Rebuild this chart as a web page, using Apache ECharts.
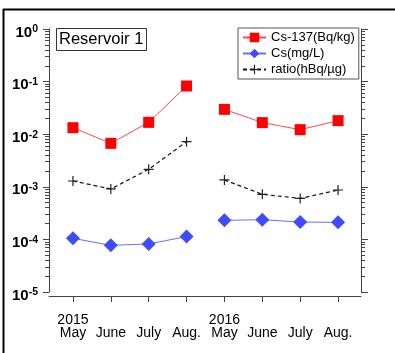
<!DOCTYPE html>
<html><head><meta charset="utf-8">
<script src="https://cdn.jsdelivr.net/npm/echarts@6/dist/echarts.min.js"></script>
<style>html,body{margin:0;padding:0;background:#fff}#c{width:395px;height:353px}</style>
</head><body><div id="c"></div>
<script>
const months = ['May','June','July','Aug.','May','June','July','Aug.'];
const years = ['2015','','','','2016','','',''];
const cs137 = [0.0133, 0.0067, 0.0168, 0.0825, 0.0297, 0.0166, 0.0122, 0.0181];
const csMgL = [1.05e-4, 7.7e-5, 8.2e-5, 1.13e-4, 2.30e-4, 2.37e-4, 2.14e-4, 2.11e-4];
const ratio = [0.00129, 0.00091, 0.00215, 0.00721, 0.00135, 0.00072, 0.00060, 0.00087];
const yTicks = [1e-5, 1e-4, 1e-3, 1e-2, 1e-1, 1];

const FONT = 'Arial, "Liberation Sans", sans-serif';
const split = (arr, first) => arr.map((v, i) => ((i < 4) === first ? v : null));
const cats = months.map((m, i) => years[i] + '\n' + m);
const plus = 'path://M4.4,0H5.6V4.4H10V5.6H5.6V10H4.4V5.6H0V4.4H4.4Z';

const chart = echarts.init(document.getElementById('c'), null, {renderer: 'canvas'});

function mk(name, data, first) {
  const base = {name, type: 'line', xAxisIndex: 0, yAxisIndex: 0, data: split(data, first), connectNulls: false, z: 5};
  if (name.startsWith('Cs-137')) Object.assign(base, {symbol: 'rect', symbolSize: 11, itemStyle: {color: '#ff0000'}, lineStyle: {color: '#ff4a4a', width: 1}});
  else if (name.startsWith('Cs(')) Object.assign(base, {symbol: 'diamond', symbolSize: 14, itemStyle: {color: '#3e4bff'}, lineStyle: {color: '#6670ff', width: 1}});
  else Object.assign(base, {symbol: plus, symbolSize: 10, itemStyle: {color: '#222'}, lineStyle: {color: '#111', width: 1.2, type: [4, 3]}});
  return base;
}

const logAxisCommon = {type: 'log', logBase: 10, min: yTicks[0], max: yTicks[yTicks.length - 1], splitLine: {show: false}};

chart.setOption({
  animation: false,
  backgroundColor: '#fff',
  title: {
    text: 'Reservoir 1', left: 56, top: 28,
    borderColor: '#333', borderWidth: 1, padding: [3, 3, 3, 3],
    textStyle: {fontFamily: FONT, fontSize: 16.5, fontWeight: 'normal', color: '#000'}
  },
  legend: {
    orient: 'vertical', left: 238, top: 28,
    borderColor: '#555', borderWidth: 1, padding: [3, 4, 3, 4],
    itemWidth: 23, itemHeight: 12, itemGap: 3,
    textStyle: {fontFamily: FONT, fontSize: 13, color: '#000'},
    data: ['Cs-137(Bq/kg)', 'Cs(mg/L)', 'ratio(hBq/µg)']
  },
  grid: [
    {left: 54, right: 38, top: 29, bottom: 61},
    {left: 49, right: 34, top: 29, bottom: 61}
  ],
  xAxis: [
    {type: 'category', gridIndex: 0, data: cats, boundaryGap: true, offset: 4,
     axisLine: {show: false},
     axisTick: {show: true, alignWithLabel: true, length: 6, lineStyle: {color: '#444'}},
     axisLabel: {fontFamily: FONT, fontSize: 14, color: '#000', lineHeight: 13, margin: 18, interval: 0},
     splitLine: {show: false}},
    {type: 'value', gridIndex: 1, min: 0, max: 1, offset: 4,
     axisLine: {show: true, lineStyle: {color: '#444', width: 1}},
     axisTick: {show: false}, axisLabel: {show: false}, splitLine: {show: false}}
  ],
  yAxis: [
    Object.assign({gridIndex: 0, show: false}, logAxisCommon),
    Object.assign({gridIndex: 1, position: 'left',
      axisLine: {show: true, lineStyle: {color: '#444'}},
      axisTick: {show: true, length: 6, lineStyle: {color: '#444'}},
      minorTick: {show: true, splitNumber: 9, length: 4, lineStyle: {color: '#444'}},
      axisLabel: {margin: 11, padding: [6, 0, 0, 0],
        formatter: v => '{b|10}{s|' + Math.round(Math.log10(v)) + '}',
        rich: {b: {fontFamily: FONT, fontSize: 15, fontWeight: 'bold', color: '#000', lineHeight: 16, padding: [4, 0, 0, 0], verticalAlign: 'bottom'},
               s: {fontFamily: FONT, fontSize: 10.5, fontWeight: 'bold', color: '#000', lineHeight: 10, verticalAlign: 'top'}}}
    }, logAxisCommon),
    Object.assign({gridIndex: 1, position: 'right',
      axisLine: {show: true, lineStyle: {color: '#444'}},
      axisTick: {show: true, length: 7, lineStyle: {color: '#444'}},
      minorTick: {show: true, splitNumber: 9, length: 4, lineStyle: {color: '#444'}},
      axisLabel: {show: false}
    }, logAxisCommon)
  ],
  graphic: [
    {type: 'line', shape: {x1: 3, y1: 9.5, x2: 395, y2: 9.5}, style: {stroke: '#000', lineWidth: 2}},
    {type: 'line', shape: {x1: 3.5, y1: 9, x2: 3.5, y2: 353}, style: {stroke: '#000', lineWidth: 2}}
  ],
  series: [
    mk('Cs-137(Bq/kg)', cs137, true), mk('Cs-137(Bq/kg)', cs137, false),
    mk('Cs(mg/L)', csMgL, true), mk('Cs(mg/L)', csMgL, false),
    mk('ratio(hBq/µg)', ratio, true), mk('ratio(hBq/µg)', ratio, false)
  ]
});
</script></body></html>
